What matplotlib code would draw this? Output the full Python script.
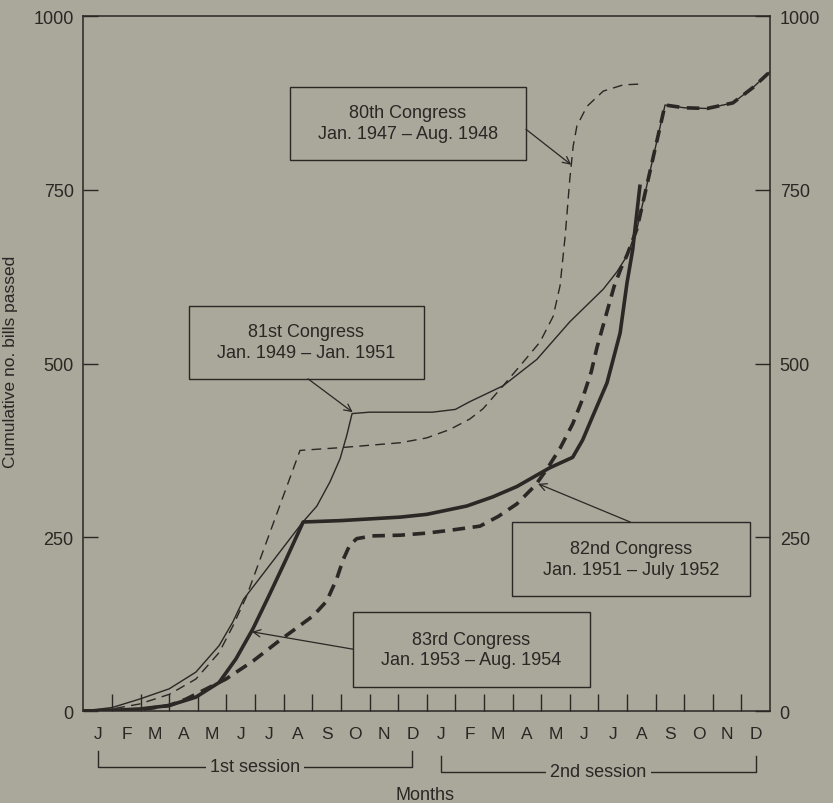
import matplotlib.pyplot as plt
from matplotlib.patches import Rectangle
from matplotlib.transforms import blended_transform_factory

# months run 0..24 across two sessions; month i is centred at i + 0.5
month_letters = ["J", "F", "M", "A", "M", "J", "J", "A", "S", "O", "N", "D"]
y_ticks = [0, 250, 500, 750, 1000]

# 80th Congress, Jan. 1947 - Aug. 1948 (thin dashed)
c80_m = [0, 1, 1.95, 3, 3.93, 4.74, 5.22, 5.7, 7.57,
         9, 11.07, 12, 12.8, 13.5, 13.97, 14.67, 15.37, 15.96, 16.42,
         16.66, 16.84, 17.0, 17.12, 17.25, 17.6, 18.17, 18.87, 19.4]
c80_v = [0, 3, 10, 24, 46, 84, 122, 165, 375,
         379, 386, 393, 405, 420, 435, 468, 502, 531, 568,
         612, 684, 765, 813, 842, 870, 892, 901, 902]

# 81st Congress, Jan. 1949 - Jan. 1951 (thin solid)
c81_m = [0, 1, 1.95, 3, 3.93, 4.74, 5.22, 5.6, 7.65, 8.16, 8.62, 8.97,
         9.2, 9.39, 10, 11, 12.2, 13, 13.5, 14.67, 15.85, 17.0, 18.17,
         18.65, 19.0, 19.35, 20.33, 21, 21.8, 22.7, 23.4, 24]
c81_v = [0, 5, 17, 32, 56, 94, 128, 161, 271, 295, 330, 363,
         396, 428, 430, 430, 430, 434, 445, 468, 506, 560, 607,
         632, 655, 694, 872, 868, 867, 875, 897, 920]

# 82nd Congress, Jan. 1951 - July 1952 (thick solid)
c82_m = [0, 1, 2, 3, 3.93, 4.74, 5.33, 5.92, 6.45, 7.08, 7.68, 9, 11.07, 12,
         13.4, 14.3, 15.15, 16.3, 17.1, 17.45, 17.8, 18.3, 18.76, 19.0, 19.2,
         19.45]
c82_v = [0, 1, 3, 8, 20, 41, 75, 118, 163, 218, 272, 274, 279, 283,
         295, 308, 323, 350, 365, 390, 424, 472, 544, 616, 664,
         755]

# 83rd Congress, Jan. 1953 - Aug. 1954 (thick dashed)
c83_m = [0, 2, 3, 3.58, 4.98, 5.93, 6.87, 8.03, 8.5, 8.85, 9.08, 9.3, 9.55,
         10.1, 11.07, 12, 12.8, 13.86, 14.5, 15.15, 15.8, 16.2, 16.66, 17.1,
         17.4, 17.75, 17.95, 18.27, 18.55, 18.8, 19.0, 19.35, 20.33, 21, 21.8,
         22.7, 23.4, 24]
c83_v = [0, 2, 8, 17, 46, 72, 102, 137, 158, 190, 218, 238, 248,
         252, 253, 256, 260, 266, 280, 298, 325, 348, 378, 413,
         444, 488, 523, 570, 611, 638, 656, 694, 872, 868, 867,
         875, 897, 920]

BG = "#aaa79b"
INK = "#2a2725"

plt.rcParams['font.family'] = ['Liberation Sans', 'DejaVu Sans']
plt.rcParams['lines.scale_dashes'] = False

fig = plt.figure(figsize=(8.33, 8.04), dpi=100, facecolor=BG)
ax = fig.add_axes([0.1002, 0.1144, 0.8242, 0.8644], facecolor=BG)
ax.set_xlim(0, 24)
ax.set_ylim(0, 1000)

for s in ax.spines.values():
    s.set_linewidth(1.1)
    s.set_color(INK)

# month boundaries get the tick marks, month centres get the letters
ax.set_xticks(range(1, 24))
ax.set_xticklabels([])
ax.set_xticks([i + 0.5 for i in range(24)], minor=True)
ax.set_xticklabels(month_letters * 2, minor=True)
ax.tick_params(axis='x', which='major', direction='in', length=12,
               width=1.0, color=INK)
ax.tick_params(axis='x', which='minor', length=0, pad=11, labelsize=12.5,
               labelcolor=INK)

ax.set_yticks(y_ticks)
ax.set_yticklabels([str(t) for t in y_ticks])
ax.tick_params(axis='y', direction='in', length=11, width=1.0, color=INK,
               left=True, right=True, labelleft=True, labelright=True,
               labelsize=13, pad=7, labelcolor=INK)

ax.plot(c80_m, c80_v, color=INK, lw=1.0, dashes=(7, 4.5))
ax.plot(c81_m, c81_v, color=INK, lw=1.0)
ax.plot(c82_m, c82_v, color=INK, lw=2.6, solid_joinstyle='round')
ax.plot(c83_m, c83_v, color=INK, lw=2.6, dashes=(9, 5.5),
        dash_capstyle='butt')

# label boxes: (x0, x1, y0, y1) in months / bills, text, arrow start, arrow tip
boxes = [
    ((7.22, 15.47, 793, 898), "80th Congress\nJan. 1947 – Aug. 1948",
     (15.47, 837), (17.05, 786)),
    ((3.69, 11.9, 478, 583), "81st Congress\nJan. 1949 – Jan. 1951",
     (7.85, 478), (9.41, 430)),
    ((14.98, 23.3, 165, 272), "82nd Congress\nJan. 1951 – July 1952",
     (19.11, 272), (15.89, 327)),
    ((9.42, 17.71, 35, 142), "83rd Congress\nJan. 1953 – Aug. 1954",
     (9.42, 89), (5.89, 114)),
]
for (x0, x1, y0, y1), label, start, tip in boxes:
    ax.add_patch(Rectangle((x0, y0), x1 - x0, y1 - y0, facecolor=BG,
                           edgecolor=INK, lw=1.0, zorder=4))
    ax.text((x0 + x1) / 2, (y0 + y1) / 2, label, ha='center', va='center',
            fontsize=13, color=INK, linespacing=1.3, zorder=5)
    ax.annotate('', xy=tip, xytext=start, zorder=6,
                arrowprops=dict(arrowstyle='->', lw=0.9, color=INK,
                                shrinkA=0, shrinkB=0, mutation_scale=13))

# session brackets under the month letters
tr = blended_transform_factory(ax.transData, fig.transFigure)
H = 804.0
for (a, b, top, base, name) in [(0.5, 11.5, 752, 768, "1st session"),
                                (12.5, 23.5, 757, 773, "2nd session")]:
    yt, yb = 1 - top / H, 1 - base / H
    ax.plot([a, a, b, b], [yt, yb, yb, yt], color=INK, lw=1.0,
            transform=tr, clip_on=False)
    ax.text((a + b) / 2, yb, name, transform=tr, ha='center', va='center',
            fontsize=13, color=INK,
            bbox=dict(facecolor=BG, edgecolor='none', pad=3))

fig.text(425 / 833, 1 - 796 / H, "Months", ha='center', va='center',
         fontsize=13, color=INK)
fig.text(11 / 833, 1 - 362 / H, "Cumulative no. bills passed",
         rotation=90, ha='center', va='center', fontsize=12.5, color=INK)

fig.savefig("out.png", dpi=100, facecolor=BG)
